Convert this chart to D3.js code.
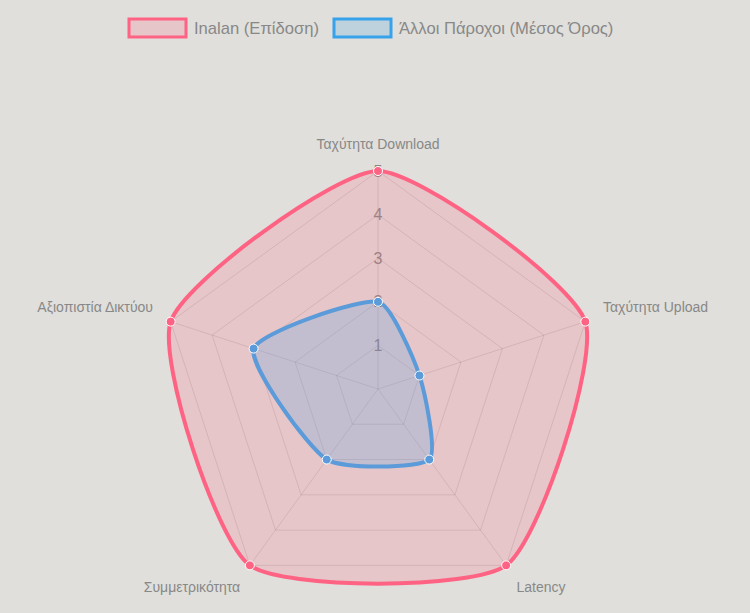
<!DOCTYPE html>
<html>
<head>
<meta charset="utf-8">
<script src="https://cdn.jsdelivr.net/npm/d3@7"></script>
<style>
  html, body { margin: 0; padding: 0; background: #e0dfdb; }
  svg { display: block; font-family: "Liberation Sans", Arial, Helvetica, sans-serif; }
</style>
</head>
<body>
<svg width="750" height="613"></svg>
<script>
// categories / axes of the radar
const axes = ["Ταχύτητα Download", "Ταχύτητα Upload", "Latency", "Συμμετρικότητα", "Αξιοπιστία Δικτύου"];
const seriesNames = ["Inalan (Επίδοση)", "Άλλοι Πάροχοι (Μέσος Όρος)"];
const inalanValues = [5, 5, 5, 5, 5];
const othersValues = [2, 1, 2, 2, 3];
const tickValues = [1, 2, 3, 4, 5];

const svg = d3.select("svg");
const cx = 378, cy = 389;
const radius = 218;
const tension = 0.2;

const rScale = d3.scaleLinear().domain([0, 5]).range([0, radius]);
const angle = (i) => (Math.PI * 2 * i) / axes.length - Math.PI / 2;
const pos = (i, v) => [cx + rScale(v) * Math.cos(angle(i)), cy + rScale(v) * Math.sin(angle(i))];

const colors = [
  { line: "#ff6384", fill: "rgba(255,99,132,0.2)", legend: "#ff6384" },
  { line: "#5b9bd9", fill: "rgba(54,162,235,0.2)", legend: "#36a2eb" }
];

// closed spline, same control point rule as chart.js radar lines
function splinePath(pts) {
  const n = pts.length;
  const cps = pts.map((p, i) => {
    const prev = pts[(i - 1 + n) % n], next = pts[(i + 1) % n];
    const d01 = Math.hypot(p[0] - prev[0], p[1] - prev[1]);
    const d12 = Math.hypot(next[0] - p[0], next[1] - p[1]);
    const fa = tension * d01 / (d01 + d12);
    const fb = tension * d12 / (d01 + d12);
    return {
      prev: [p[0] - fa * (next[0] - prev[0]), p[1] - fa * (next[1] - prev[1])],
      next: [p[0] + fb * (next[0] - prev[0]), p[1] + fb * (next[1] - prev[1])]
    };
  });
  const path = d3.path();
  path.moveTo(pts[0][0], pts[0][1]);
  for (let i = 0; i < n; i++) {
    const j = (i + 1) % n;
    path.bezierCurveTo(cps[i].next[0], cps[i].next[1], cps[j].prev[0], cps[j].prev[1], pts[j][0], pts[j][1]);
  }
  path.closePath();
  return path.toString();
}

const g = svg.append("g");

// grid rings
tickValues.forEach((t) => {
  g.append("path")
    .attr("d", d3.line()(axes.map((a, i) => pos(i, t))) + "Z")
    .attr("fill", "none")
    .attr("stroke", "rgba(0,0,0,0.1)")
    .attr("stroke-width", 1);
});

// spokes
axes.forEach((a, i) => {
  const p = pos(i, 5);
  g.append("line")
    .attr("x1", cx).attr("y1", cy)
    .attr("x2", p[0]).attr("y2", p[1])
    .attr("stroke", "rgba(0,0,0,0.1)")
    .attr("stroke-width", 1);
});

// tick labels
tickValues.forEach((t) => {
  g.append("text")
    .attr("x", cx)
    .attr("y", cy - rScale(t))
    .attr("text-anchor", "middle")
    .attr("dominant-baseline", "central")
    .attr("font-size", 16)
    .attr("fill", "#888")
    .text(t);
});

// point labels
const labelPos = [
  { dx: 0, dy: -245, anchor: "middle" },
  { dx: 225, dy: -82, anchor: "start" },
  { dx: 163, dy: 198, anchor: "middle" },
  { dx: -186, dy: 198, anchor: "middle" },
  { dx: -225, dy: -82, anchor: "end" }
];
axes.forEach((a, i) => {
  g.append("text")
    .attr("x", cx + labelPos[i].dx)
    .attr("y", cy + labelPos[i].dy)
    .attr("text-anchor", labelPos[i].anchor)
    .attr("dominant-baseline", "central")
    .attr("font-size", 14)
    .attr("fill", "#888")
    .text(a);
});

// datasets
[inalanValues, othersValues].forEach((vals, k) => {
  const pts = vals.map((v, i) => pos(i, v));
  g.append("path")
    .attr("d", splinePath(pts))
    .attr("fill", colors[k].fill)
    .attr("stroke", colors[k].line)
    .attr("stroke-width", 4);
});
[inalanValues, othersValues].forEach((vals, k) => {
  g.selectAll(null)
    .data(vals)
    .enter()
    .append("circle")
    .attr("cx", (v, i) => pos(i, v)[0])
    .attr("cy", (v, i) => pos(i, v)[1])
    .attr("r", 4.5)
    .attr("fill", colors[k].line)
    .attr("stroke", "#fff")
    .attr("stroke-width", 1);
});

// legend
const legendX = [129, 334];
seriesNames.forEach((name, k) => {
  const lg = svg.append("g").attr("transform", `translate(${legendX[k]}, 19)`);
  lg.append("rect")
    .attr("width", 57).attr("height", 18)
    .attr("fill", colors[k].fill)
    .attr("stroke", colors[k].legend)
    .attr("stroke-width", 3);
  lg.append("text")
    .attr("x", 65)
    .attr("y", 9)
    .attr("dominant-baseline", "central")
    .attr("font-size", 16.6)
    .attr("fill", "#888")
    .text(name);
});
</script>
</body>
</html>
